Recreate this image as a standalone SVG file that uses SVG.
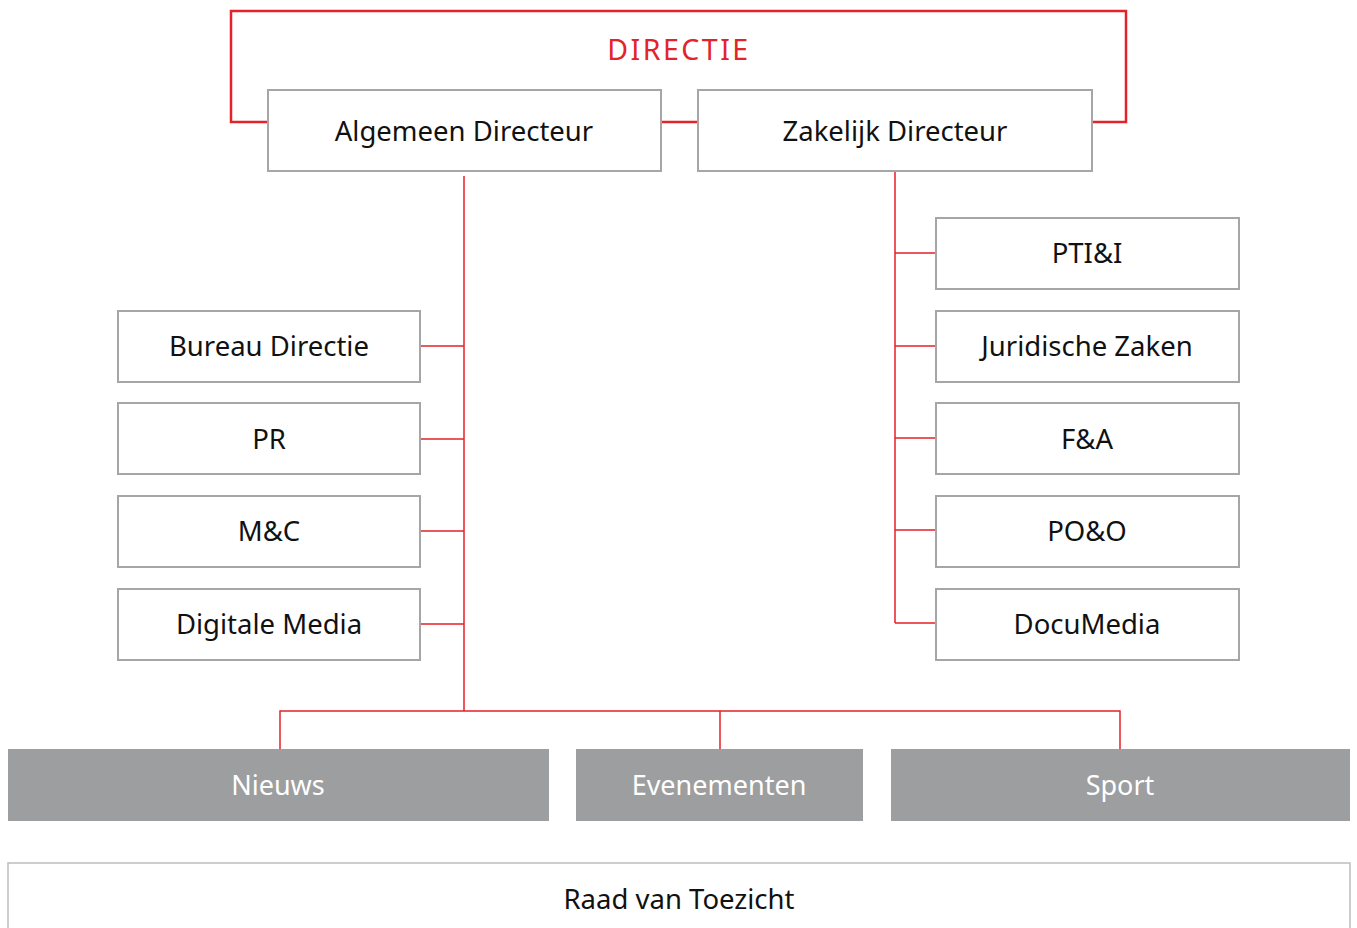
<svg xmlns="http://www.w3.org/2000/svg" width="1357" height="928" viewBox="0 0 1357 928">
<style>
.box{fill:#fff;stroke:#a6a6a6;stroke-width:2}
.dept{fill:#9d9ea0}
.t{font-family:"Noto Sans","Liberation Sans",sans-serif;font-size:27.5px;fill:#111;text-anchor:middle}
.w{fill:#fff;font-size:27px}
.red{fill:none;stroke:#e4222a;stroke-width:1.5}
.redt{fill:none;stroke:#e4222a;stroke-width:2.5}
</style>
<rect width="1357" height="928" fill="#fff"/>
<g id="connectors">
<path class="redt" d="M268,122 H231 V11 H1126 V122 H1092"/>
<path class="redt" d="M661,122 H698"/>
<path class="red" d="M464,176 V711 M280,749 V711 H1120 V749 M720,711 V749"/>
<path class="red" d="M420,346 H464 M420,439 H464 M420,531 H464 M420,624 H464"/>
<path class="red" d="M895,171 V623 M895,253 H936 M895,346 H936 M895,438 H936 M895,530 H936 M895,623 H936"/>
</g>
<g id="directie"><text x="679" y="60" class="t" style="fill:#e4222a;font-size:28.5px;letter-spacing:2.5px">DIRECTIE</text></g>
<g id="algemeen"><rect class="box" x="268" y="90" width="393" height="81"/><text class="t" x="464" y="141">Algemeen Directeur</text></g>
<g id="zakelijk"><rect class="box" x="698" y="90" width="394" height="81"/><text class="t" x="895" y="141">Zakelijk Directeur</text></g>
<g id="bureau"><rect class="box" x="118" y="311" width="302" height="71"/><text class="t" x="269" y="356">Bureau Directie</text></g>
<g id="pr"><rect class="box" x="118" y="403" width="302" height="71"/><text class="t" x="269" y="449">PR</text></g>
<g id="mc"><rect class="box" x="118" y="496" width="302" height="71"/><text class="t" x="269" y="541">M&amp;C</text></g>
<g id="digitale"><rect class="box" x="118" y="589" width="302" height="71"/><text class="t" x="269" y="634">Digitale Media</text></g>
<g id="pti"><rect class="box" x="936" y="218" width="303" height="71"/><text class="t" x="1087" y="263">PTI&amp;I</text></g>
<g id="juridische"><rect class="box" x="936" y="311" width="303" height="71"/><text class="t" x="1087" y="356">Juridische Zaken</text></g>
<g id="fa"><rect class="box" x="936" y="403" width="303" height="71"/><text class="t" x="1087" y="449">F&amp;A</text></g>
<g id="poo"><rect class="box" x="936" y="496" width="303" height="71"/><text class="t" x="1087" y="541">PO&amp;O</text></g>
<g id="documedia"><rect class="box" x="936" y="589" width="303" height="71"/><text class="t" x="1087" y="634">DocuMedia</text></g>
<g id="nieuws"><rect class="dept" x="8" y="749" width="541" height="72"/><text class="t w" x="278" y="795">Nieuws</text></g>
<g id="evenementen"><rect class="dept" x="576" y="749" width="287" height="72"/><text class="t w" x="719" y="795">Evenementen</text></g>
<g id="sport"><rect class="dept" x="891" y="749" width="459" height="72"/><text class="t w" x="1120" y="795">Sport</text></g>
<g id="raad"><rect x="8" y="863" width="1342" height="80" fill="#fff" stroke="#bdbdbd" stroke-width="1.5"/><text class="t" x="679" y="909">Raad van Toezicht</text></g>
</svg>
